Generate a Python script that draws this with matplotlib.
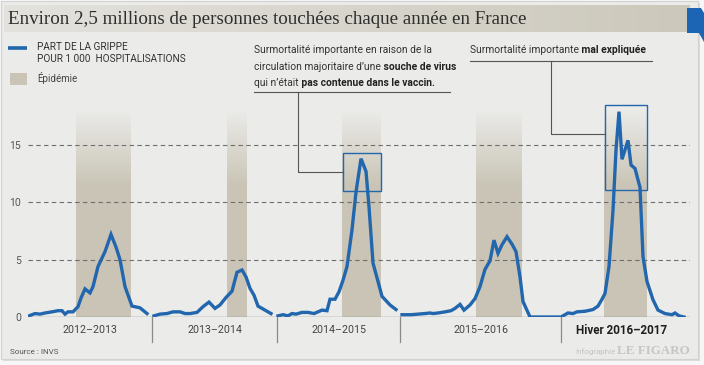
import matplotlib.pyplot as plt
import numpy as np
from matplotlib.patches import Rectangle, Polygon

NARROW = ['Liberation Sans Narrow', 'Roboto', 'DejaVu Sans']
SERIF = ['Liberation Serif', 'DejaVu Serif']

# --- données (abscisse en semaines depuis oct. 2012) ---
saisons = ['2012–2013', '2013–2014', '2014–2015', '2015–2016', 'Hiver 2016–2017']
saison_centre = [15.5, 46.75, 77.75, 113.25, 148.5]
saison_limites = [31, 62.25, 93, 133.25]

sem_2012 = [0.25, 1.75, 3, 4.25, 6, 7.5, 8.5, 9.25, 10, 11.25, 12.5, 13.25, 14.25,
            15.5, 16.25, 17.5, 19.25, 20.75, 22, 23, 24.25, 26, 28, 29.75]
grippe_2012 = [0.1, 0.3, 0.25, 0.35, 0.45, 0.55, 0.55, 0.25, 0.45, 0.45, 0.9, 1.65, 2.45,
               2.1, 2.65, 4.4, 5.7, 7.2, 6.1, 5.0, 2.65, 0.95, 0.8, 0.3]

sem_2013 = [31.5, 33, 34.75, 36.25, 38, 39.25, 40.5, 42.25, 43.75, 45.25, 46.75, 48,
            49.5, 51, 52.25, 53.5, 54.5, 55.5, 56.5, 57.5, 59.25, 60.75]
grippe_2013 = [0.1, 0.25, 0.3, 0.45, 0.45, 0.3, 0.3, 0.4, 0.9, 1.3, 0.75, 1.05,
               1.7, 2.25, 3.9, 4.1, 3.5, 2.5, 1.9, 0.95, 0.6, 0.3]

sem_2014 = [62.5, 63.75, 65, 66, 67, 68.5, 70, 71.5, 73.5, 74.75, 75.5, 76.75, 77.75,
            78.75, 79.75, 81, 82, 83.25, 84.5, 85.25, 86.25, 87.5, 88.5, 90.5, 92]
grippe_2014 = [0.1, 0.2, 0.1, 0.3, 0.25, 0.4, 0.4, 0.3, 0.6, 0.55, 1.55, 1.55, 2.2,
               3.2, 4.4, 7.6, 10.9, 13.8, 12.7, 9.6, 4.7, 3.1, 1.8, 1.05, 0.65]

sem_2015 = [93.5, 95.75, 97.5, 99.25, 100.5, 101.25, 102.5, 104.25, 105.75, 106.75, 108,
            109, 110.5, 111.75, 113, 114.25, 115.5, 116.5, 117.5, 118.5, 119.75, 121,
            122, 123, 123.75, 125.5, 129.25]
grippe_2015 = [0.2, 0.2, 0.25, 0.3, 0.35, 0.3, 0.35, 0.45, 0.55, 0.75, 1.1,
               0.6, 1.05, 1.6, 2.65, 4.15, 4.9, 6.7, 5.55, 6.3, 7.0, 6.35,
               5.7, 3.5, 1.35, 0.0, 0.0]

sem_2016 = [133.25, 134.5, 135, 136.25, 137.25, 139.25, 141.25, 142.5, 143.5, 144.25,
            145.25, 146.25, 147, 147.75, 148.5, 150, 150.75, 151.75, 153, 153.75,
            154.75, 156.25, 157.5, 159.25, 161, 161.75, 162.75, 164]
grippe_2016 = [0.0, 0.25, 0.35, 0.3, 0.45, 0.5, 0.65, 0.95, 1.55, 2.05,
               4.4, 9.3, 14.55, 17.9, 13.75, 15.4, 13.25, 12.95, 11.3, 5.25,
               3.1, 1.5, 0.6, 0.3, 0.2, 0.35, 0.1, 0.0]

epidemies = [(12, 25.75), (49.75, 54.75), (78.5, 88.25), (112, 123.5), (144, 154.75)]
# cadres "surmortalité" : (x0, x1, y0, y1)
cadres = [(78.75, 88.25, 11.0, 14.3), (144.25, 154.75, 11.1, 18.5)]

BLEU = '#2266ae'
SABLE = (0.79, 0.77, 0.71)
FOND = '#ebebe9'

fig = plt.figure(figsize=(7.04, 3.65), dpi=100)
fig.patch.set_facecolor('#f6f6f6')

# fond / décor en pixels
bg = fig.add_axes([0, 0, 1, 1])
bg.set_xlim(0, 704)
bg.set_ylim(365, 0)
bg.axis('off')
bg.add_patch(Rectangle((3, 3), 697, 358, fc='#dcdcdc', ec='none'))
bg.add_patch(Rectangle((1, 1), 697, 358, fc=FOND, ec='#d2d2d2', lw=0.8))
grad = np.linspace(0, 1, 256)[None, :, None]
band = (1 - grad) * np.array([0.89, 0.885, 0.865]) + grad * np.array([0.80, 0.785, 0.735])
bg.imshow(band, extent=[4, 690, 32, 5], aspect='auto', zorder=1)
bg.add_patch(Polygon([(687, 8), (701, 8), (704, 13), (704, 42), (699, 33), (687, 33)],
                     fc='#1c64b4', ec='none', zorder=2))
bg.text(8, 19, 'Environ 2,5 millions de personnes touchées chaque année en France',
        family=SERIF, fontsize=13.7, color='#2e2e2e', va='center', ha='left', zorder=3)

# légende
bg.plot([8, 27], [48, 48], color=BLEU, lw=2.6, solid_capstyle='butt')
bg.text(37, 47.5, 'PART DE LA GRIPPE', family=NARROW,
        fontsize=7.2, color='#333333', va='center')
bg.text(37, 59.5, 'POUR 1 000  HOSPITALISATIONS', family=NARROW,
        fontsize=7.2, color='#333333', va='center')
bg.add_patch(Rectangle((10, 73), 17, 12, fc=SABLE, ec='none'))
bg.text(37, 78.5, 'Épidémie', family=NARROW, fontsize=7, color='#444444', va='center')

bg.text(10, 352, 'Source : INVS', family=NARROW, fontsize=5.8, color='#555555', va='center')
bg.text(616, 351.5, 'Infographie', family=NARROW, fontsize=5.8, color='#c4c4c4',
        va='center', ha='right')
bg.text(690, 351, 'LE FIGARO', family=SERIF, fontsize=9.4, fontweight='bold',
        color='#c6c6c6', va='center', ha='right')

# graphique
ax = fig.add_axes([28 / 704, 48 / 365, 662 / 704, 217 / 365])
ax.patch.set_alpha(0)
ymax = 217 / 11.47
ax.set_ylim(0, ymax)
ax.set_xlim(0, 165.5)
for s in ax.spines.values():
    s.set_visible(False)

haut = 18.1
yy = np.linspace(0, haut, 200)
alpha = np.clip((haut - yy) / (haut - 11.4), 0, 1)
rgba = np.zeros((200, 1, 4))
rgba[..., :3] = SABLE
rgba[:, 0, 3] = alpha
for x0, x1 in epidemies:
    ax.imshow(rgba, extent=[x0, x1, 0, haut], origin='lower', aspect='auto',
              interpolation='bilinear', zorder=1)
ax.set_xlim(0, 165.5)
ax.set_ylim(0, ymax)

for v in [5, 10, 15]:
    ax.axhline(v, color='#6e6e6e', lw=0.8, ls=(0, (4, 3)), zorder=2)
ax.axhline(0, color='#8a8a8a', lw=1.0, zorder=2)

ax.set_yticks([0, 5, 10, 15])
ax.set_yticklabels(['0', '5', '10', '15'], family=NARROW, fontsize=7.5, color='#555555')
ax.tick_params(axis='y', length=0, pad=5)
ax.set_xticks([])

trans = ax.get_xaxis_transform()
for xl in saison_limites:
    ax.plot([xl, xl], [0, -0.115], transform=trans, color='#8a8a8a', lw=0.9, clip_on=False)
for xc, lab in zip(saison_centre, saisons):
    hiver = lab.startswith('Hiver')
    ax.text(xc, -0.06, lab, transform=trans, ha='center', va='center', family=NARROW,
            fontsize=8.4 if hiver else 7.7, fontweight='bold' if hiver else 'normal',
            color='#1e1e1e' if hiver else '#444444')

for sx, sy in [(sem_2012, grippe_2012), (sem_2013, grippe_2013), (sem_2014, grippe_2014),
               (sem_2015 + sem_2016, grippe_2015 + grippe_2016)]:
    ax.plot(sx, sy, color=BLEU, lw=2.4, solid_joinstyle='miter', zorder=4)

for x0, x1, y0, y1 in cadres:
    ax.add_patch(Rectangle((x0, y0), x1 - x0, y1 - y0, fill=False, ec=BLEU, lw=1.0, zorder=5))

# annotations
GRIS = '#555555'
ax.plot([56.5, 105.5], [19.6, 19.6], color=GRIS, lw=0.8, clip_on=False)
ax.plot([67.5, 67.5, 78.75], [19.6, 12.64, 12.64], color=GRIS, lw=0.8, clip_on=False)
ax.plot([110.5, 156], [22.3, 22.3], color=GRIS, lw=0.8, clip_on=False)
ax.plot([130.75, 130.75, 144.25], [22.3, 15.95, 15.95], color=GRIS, lw=0.8, clip_on=False)


def ligne(x, y, morceaux):
    t = ax.text(x, y, morceaux[0][0], fontweight=morceaux[0][1], family=NARROW,
                fontsize=7.4, color='#333333', va='bottom', clip_on=False)
    for txt, w in morceaux[1:]:
        t = ax.annotate(txt, xy=(1, 0), xycoords=t, va='bottom', fontweight=w,
                        family=NARROW, fontsize=7.4, color='#222222')


ligne(56.5, 22.85, [('Surmortalité importante en raison de la', 'normal')])
ligne(56.5, 21.4, [('circulation majoritaire d’une', 'normal'), (' souche de virus', 'bold')])
ligne(56.5, 19.95, [('qui n’était', 'normal'), (' pas contenue dans le vaccin.', 'bold')])
ligne(110.5, 22.85, [('Surmortalité importante', 'normal'), (' mal expliquée', 'bold')])

fig.savefig('out.png', dpi=100, facecolor=fig.get_facecolor())
